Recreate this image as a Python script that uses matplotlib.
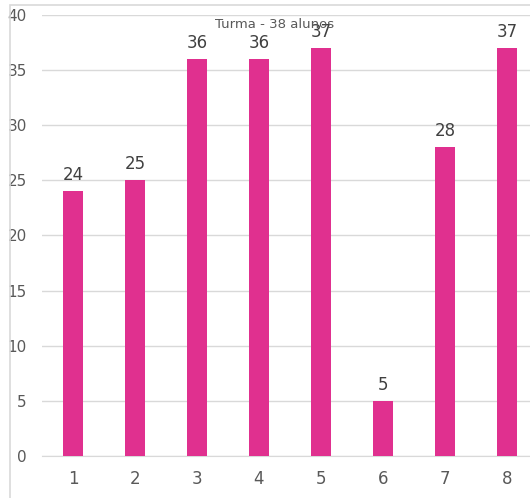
import matplotlib.pyplot as plt
from matplotlib.patches import Rectangle

# data
categories = ['1', '2', '3', '4', '5', '6', '7', '8']
values = [24, 25, 36, 36, 37, 5, 28, 37]
title = 'Turma - 38 alunos'

W, H = 530, 498
fig = plt.figure(figsize=(W / 100, H / 100), dpi=100)

# outer chart border (Excel style)
fig.patches.append(Rectangle((10 / W, -0.1), 1.2, (H - 5) / H + 0.1, transform=fig.transFigure,
                             fill=False, edgecolor='#d9d9d9', linewidth=1.2))

ax = fig.add_axes([42 / W, (H - 456) / H, (W - 42) / W, (456 - 15) / H])
x = list(range(1, len(categories) + 1))
ax.bar(x, values, width=0.31, color='#E0308F', zorder=3)

ax.set_xlim(0.5, 0.5 + (W - 42) / 62)
ax.set_ylim(0, 40)
ax.set_yticks(range(0, 41, 5))
ax.set_xticks(x)
ax.set_xticklabels(categories)
ax.yaxis.grid(True, color='#d9d9d9', linewidth=1, zorder=0)
ax.set_axisbelow(True)
for s in ax.spines.values():
    s.set_visible(False)
ax.spines['bottom'].set_visible(True)
ax.spines['bottom'].set_color('#d9d9d9')
ax.tick_params(length=0, colors='#595959')
ax.tick_params(axis='x', pad=10, labelsize=12)
ax.tick_params(axis='y', pad=11, labelsize=11)

for xi, v in zip(x, values):
    ax.annotate(str(v), (xi, v), xytext=(0, 5), textcoords='offset points',
                ha='center', va='bottom', fontsize=12, color='#404040')

# title sits low and overlaps the bar label, like the original
fig.text(275 / W, 1 - 25 / H, title, ha='center', va='center', fontsize=9.5, color='#595959')

fig.savefig('out.png', dpi=100)
